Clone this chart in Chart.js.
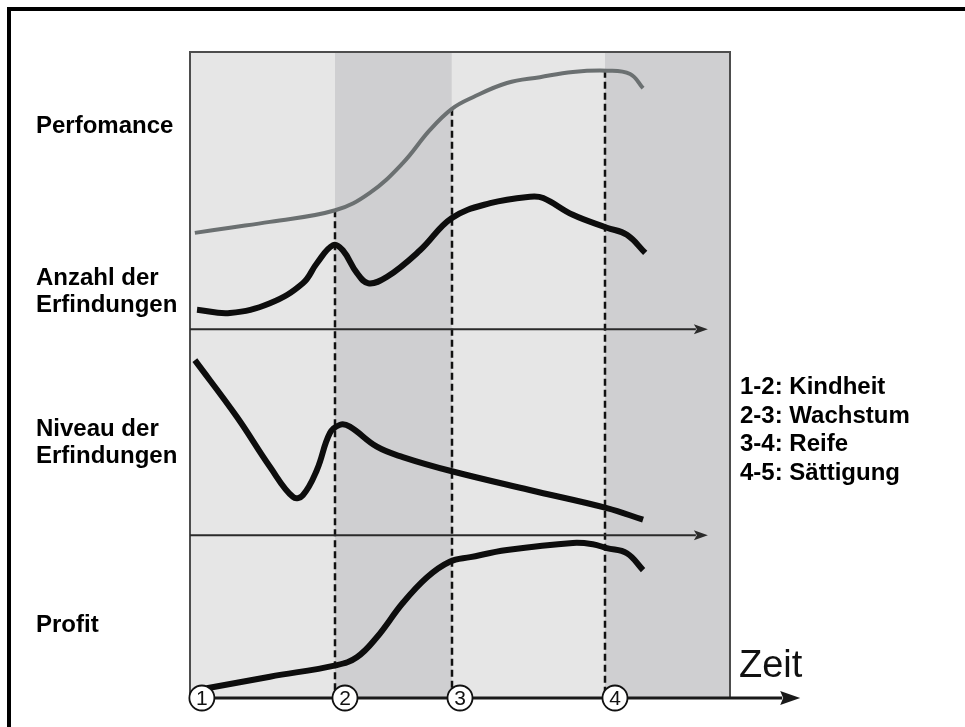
<!DOCTYPE html>
<html>
<head>
<meta charset="utf-8">
<script src="https://cdn.jsdelivr.net/npm/chart.js@4/dist/chart.umd.min.js"></script>
<style>
  body { margin: 0; background: #fff; font-family: "Liberation Sans", Arial, sans-serif; }
  #wrap { position: relative; width: 965px; height: 727px; overflow: hidden; }
  #frame { position: absolute; left: 7px; top: 7px; width: 1000px; height: 800px;
           border-left: 4px solid #000; border-top: 4px solid #000; }
  #c { position: absolute; left: 0; top: 0; }
  .lbl { position: absolute; font-weight: bold; font-size: 24px; line-height: 27px; color: #000; white-space: nowrap; }
  #legend { line-height: 28.5px; }
</style>
</head>
<body>
<div id="wrap">
  <div id="frame"></div>
  <canvas id="c" width="965" height="727"></canvas>
  <div class="lbl" style="left:36px;top:111px">Perfomance</div>
  <div class="lbl" style="left:36px;top:263px">Anzahl der<br>Erfindungen</div>
  <div class="lbl" style="left:36px;top:414px">Niveau der<br>Erfindungen</div>
  <div class="lbl" style="left:36px;top:610px">Profit</div>
  <div class="lbl" id="legend" style="left:740px;top:372px">1-2: Kindheit<br>2-3: Wachstum<br>3-4: Reife<br>4-5: Sättigung</div>
</div>
<script>
'use strict';

// Zeit (0..100 über das Feld), Werte 0..100 von unten nach oben
const perfX   = [0.9, 7.4, 14.8, 26.9, 33.3, 39.4, 44.4, 48.5, 52.4, 58.7, 64.8, 70.9, 77.2, 81.5, 83.9];
const perfY   = [72.0, 72.8, 73.7, 75.5, 78.2, 82.8, 87.9, 91.2, 93.0, 95.2, 96.1, 96.9, 97.1, 96.6, 94.4];

const anzahlX = [1.3, 7.4, 14.8, 20.9, 23.5, 26.5, 28.3, 30.9, 33.0, 36.5, 42.6, 48.5, 55.6, 63.0, 65.4, 70.9, 77.2, 80.9, 84.3];
const anzahlY = [60.1, 59.6, 61.1, 64.2, 67.3, 70.1, 69.3, 65.8, 64.2, 65.2, 69.3, 74.3, 76.6, 77.6, 77.4, 74.8, 72.8, 71.7, 68.9];

const niveauX = [0.9, 8.7, 14.8, 19.1, 20.9, 23.5, 25.9, 27.8, 29.6, 34.6, 39.4, 48.5, 62.9, 77.2, 83.9];
const niveauY = [52.3, 43.5, 35.8, 31.1, 31.4, 35.3, 41.0, 42.3, 42.0, 38.9, 37.3, 35.1, 32.2, 29.4, 27.6];

const profitX = [3.1, 14.8, 27.2, 30.9, 34.6, 39.4, 43.9, 48.1, 51.9, 58.7, 70.9, 74.6, 77.2, 80.9, 83.9];
const profitY = [1.5, 3.3, 5.1, 6.3, 9.4, 14.7, 18.7, 21.1, 21.8, 22.9, 24.0, 23.8, 23.2, 22.4, 19.8];

const phaseBounds  = [26.85, 48.5, 76.85];
const phaseTops    = [75.5, 91.2, 97.1];
const axisLevels   = [57.1, 25.2];
const axisEnd      = 95.9;
const timeAxisEnd  = 113;
const markerX      = [2.2, 28.7, 50, 78.7];
const markerLabels = ['1', '2', '3', '4'];
const timeLabel    = 'Zeit';

const bandColors = ['#e6e6e6', '#cfcfd1', '#e6e6e6', '#cfcfd1'];

function pts(xs, ys) { return xs.map(function(v, i) { return {x: v, y: ys[i]}; }); }

function arrow(ctx, x0, x1, yy, w, col, len, half) {
  ctx.strokeStyle = col; ctx.fillStyle = col; ctx.lineWidth = w;
  ctx.beginPath(); ctx.moveTo(x0, yy); ctx.lineTo(x1 - len + 2, yy); ctx.stroke();
  ctx.beginPath(); ctx.moveTo(x1, yy); ctx.lineTo(x1 - len, yy - half); ctx.lineTo(x1 - len + 3, yy); ctx.lineTo(x1 - len, yy + half); ctx.closePath(); ctx.fill();
}

const phasePlugin = {
  id: 'phases',
  beforeDatasetsDraw(chart) {
    const ctx = chart.ctx, a = chart.chartArea, x = chart.scales.x, y = chart.scales.y;
    const edges = [x.min].concat(phaseBounds, [x.max]);
    ctx.save();
    for (let i = 0; i < 4; i++) {
      const x0 = x.getPixelForValue(edges[i]), x1 = x.getPixelForValue(edges[i + 1]);
      ctx.fillStyle = bandColors[i];
      ctx.fillRect(x0, a.top, x1 - x0, a.bottom - a.top);
    }
    ctx.strokeStyle = '#4d4d4d'; ctx.lineWidth = 2;
    ctx.beginPath();
    ctx.moveTo(a.left, a.bottom); ctx.lineTo(a.left, a.top); ctx.lineTo(a.right, a.top); ctx.lineTo(a.right, a.bottom);
    ctx.stroke();

    ctx.setLineDash([7, 4]); ctx.strokeStyle = '#111'; ctx.lineWidth = 2.5;
    phaseBounds.forEach(function(b, i) {
      const px = Math.round(x.getPixelForValue(b));
      ctx.beginPath(); ctx.moveTo(px, y.getPixelForValue(phaseTops[i])); ctx.lineTo(px, a.bottom); ctx.stroke();
    });
    ctx.setLineDash([]);

    axisLevels.forEach(function(v) {
      arrow(ctx, a.left, x.getPixelForValue(axisEnd), y.getPixelForValue(v), 2, '#2a2a2a', 14, 5);
    });
    arrow(ctx, a.left, x.getPixelForValue(timeAxisEnd), y.getPixelForValue(0), 3, '#1a1a1a', 20, 7);
    ctx.restore();
  },
  afterDatasetsDraw(chart) {
    const ctx = chart.ctx, x = chart.scales.x, y = chart.scales.y;
    const cy = y.getPixelForValue(0);
    ctx.save();
    markerX.forEach(function(m, i) {
      const cx = x.getPixelForValue(m);
      ctx.beginPath(); ctx.arc(cx, cy, 12.5, 0, Math.PI * 2);
      ctx.fillStyle = '#fff'; ctx.fill();
      ctx.strokeStyle = '#111'; ctx.lineWidth = 1.8; ctx.stroke();
      ctx.fillStyle = '#111'; ctx.font = '21px "Liberation Sans", Arial';
      ctx.textAlign = 'center'; ctx.textBaseline = 'middle';
      ctx.fillText(markerLabels[i], cx, cy + 1);
    });
    ctx.fillStyle = '#111'; ctx.font = '38px "Liberation Sans", Arial';
    ctx.textAlign = 'left'; ctx.textBaseline = 'alphabetic';
    ctx.fillText(timeLabel, 739, 677);
    ctx.restore();
  }
};

function lineSet(data, color, width) {
  return { data: data, borderColor: color, borderWidth: width, pointRadius: 0, tension: 0.4,
           fill: false, borderCapStyle: 'butt', borderJoinStyle: 'round' };
}

new Chart(document.getElementById('c').getContext('2d'), {
  type: 'line',
  data: {
    datasets: [
      lineSet(pts(perfX, perfY), '#6b7071', 4),
      lineSet(pts(anzahlX, anzahlY), '#0d0d0d', 6),
      lineSet(pts(niveauX, niveauY), '#0d0d0d', 6),
      lineSet(pts(profitX, profitY), '#0d0d0d', 6)
    ]
  },
  options: {
    responsive: false,
    animation: false,
    layout: { padding: { left: 190, top: 52, right: 235, bottom: 29 } },
    plugins: { legend: { display: false }, tooltip: { enabled: false } },
    scales: {
      x: { type: 'linear', min: 0, max: 100, display: false },
      y: { type: 'linear', min: 0, max: 100, display: false }
    }
  },
  plugins: [phasePlugin]
});
</script>
</body>
</html>
